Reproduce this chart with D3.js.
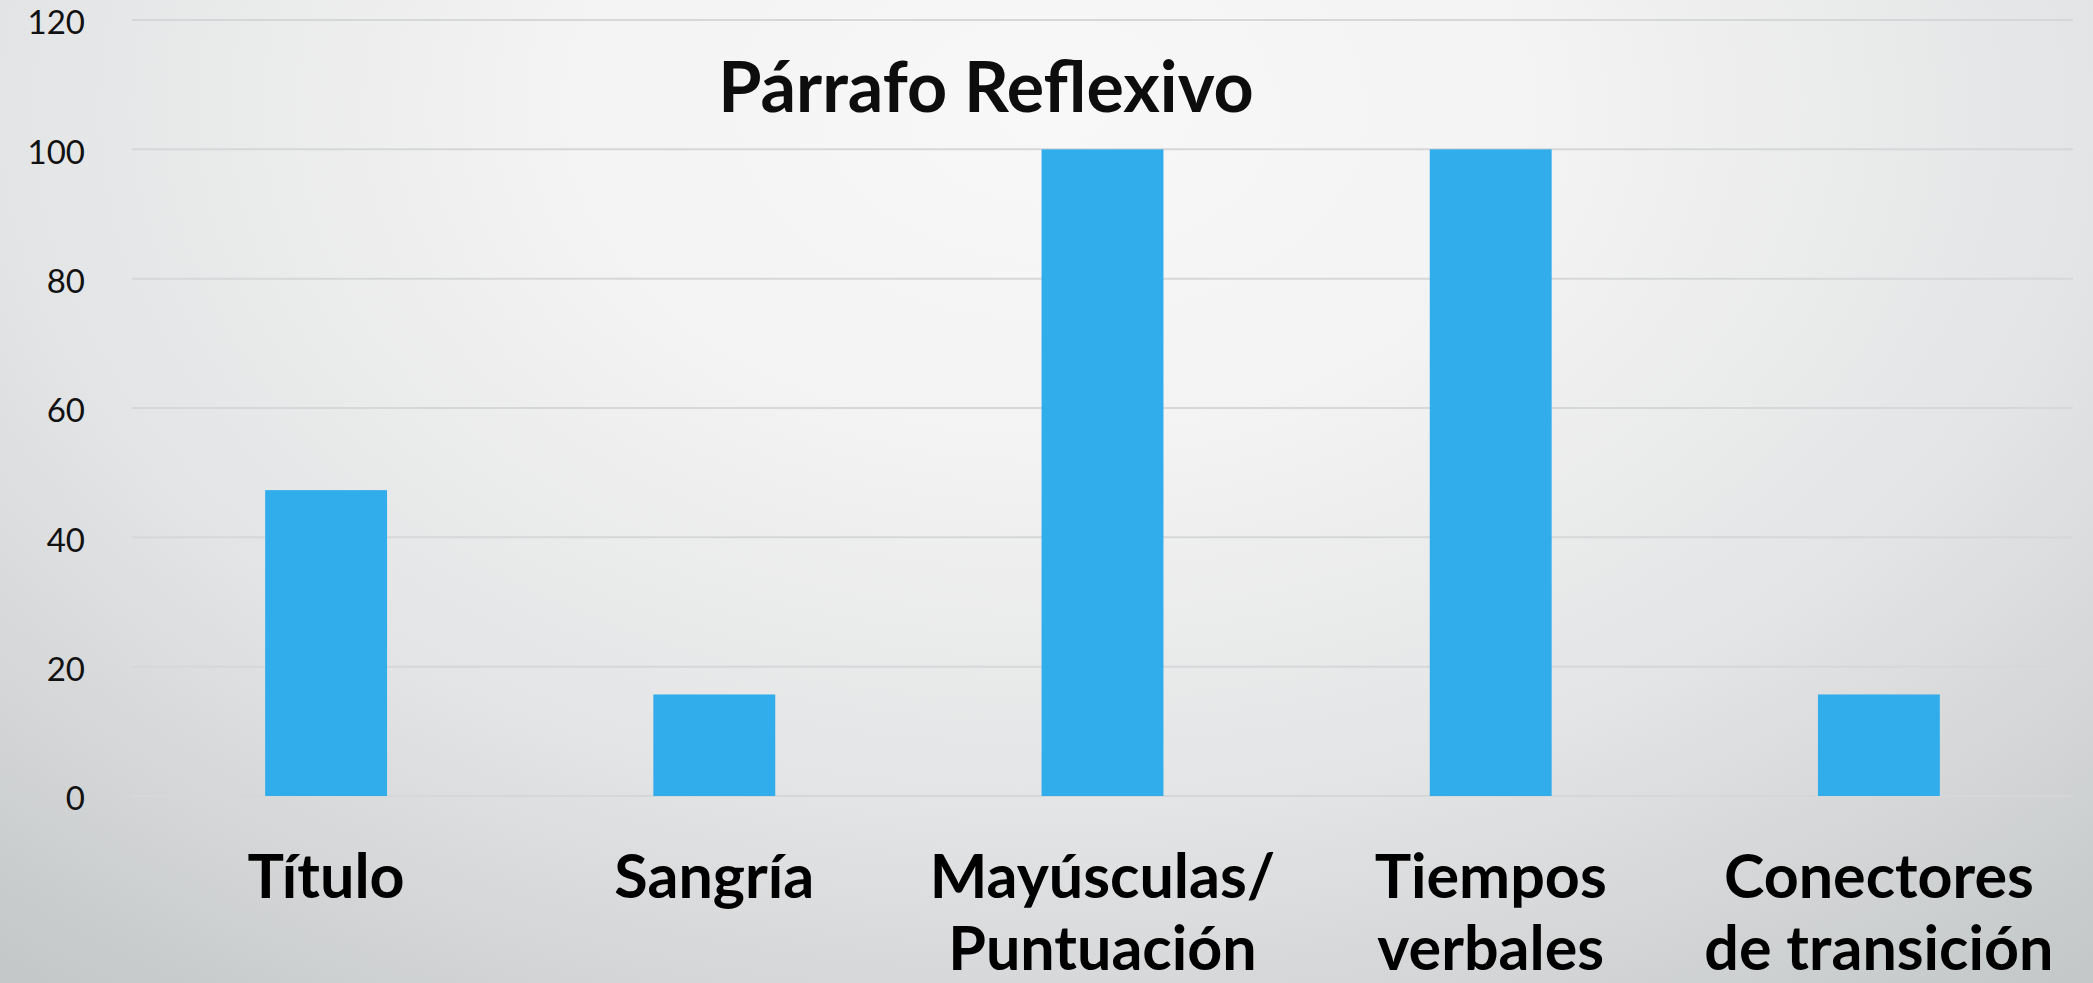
<!DOCTYPE html>
<html>
<head>
<meta charset="utf-8">
<script src="https://cdn.jsdelivr.net/npm/d3@7"></script>
<style>
  body { margin: 0; background: #e6e7e8; }
  svg { display: block; }
</style>
</head>
<body>
<svg></svg>
<script>
// data
var categories = ["Título", "Sangría", "Mayúsculas/ Puntuación", "Tiempos verbales", "Conectores de transición"];
var labelLines = [["Título"], ["Sangría"], ["Mayúsculas/", "Puntuación"], ["Tiempos", "verbales"], ["Conectores", "de transición"]];
var values = [47.3, 15.7, 100, 100, 15.7];
var yTicks = [0, 20, 40, 60, 80, 100, 120];
var chartTitle = "Párrafo Reflexivo";

var svgWidth = 2093,
    svgHeight = 983,
    margin = {top: 20, right: 20, bottom: 187, left: 132},
    width = svgWidth - margin.left - margin.right,
    height = svgHeight - margin.top - margin.bottom;

var svg = d3.select("svg")
    .attr("width", svgWidth)
    .attr("height", svgHeight);

applyBackground(svg);

var xScale = d3.scaleBand()
    .domain(categories)
    .range([margin.left, margin.left + width])
    .paddingInner(0.686)
    .paddingOuter(0.343);

var yScale = d3.scaleLinear()
    .domain([0, 120])
    .range([margin.top + height, margin.top]);

// gridlines
svg.append("g")
    .attr("class", "grid")
    .selectAll("line")
    .data(yTicks)
    .enter()
    .append("line")
    .attr("x1", margin.left)
    .attr("x2", margin.left + width)
    .attr("y1", function(d){ return yScale(d); })
    .attr("y2", function(d){ return yScale(d); })
    .attr("stroke", "#d6d7d8")
    .attr("stroke-width", 2);

// y axis labels
var yAxis = d3.axisLeft(yScale)
    .tickValues(yTicks)
    .tickSize(0)
    .tickPadding(0);

var yAxisG = svg.append("g")
    .attr("transform", "translate(85,0)")
    .call(yAxis);
yAxisG.select(".domain").remove();
yAxisG.selectAll("text")
    .attr("dy", "0.42em")
    .style("font-family", "Lato, 'Open Sans', sans-serif")
    .style("font-size", "33px")
    .attr("fill", "#111");

// bars
svg.append("g")
    .selectAll("rect")
    .data(values)
    .enter()
    .append("rect")
    .attr("x", function(d, i){ return xScale(categories[i]); })
    .attr("y", function(d){ return yScale(d); })
    .attr("width", xScale.bandwidth())
    .attr("height", function(d){ return yScale(0) - yScale(d); })
    .attr("fill", "#31ADEB");

// category labels, two lines where needed
var labels = svg.append("g")
    .selectAll("text")
    .data(labelLines)
    .enter()
    .append("text")
    .attr("x", function(d, i){ return xScale(categories[i]) + xScale.bandwidth() / 2; })
    .attr("y", 898)
    .attr("text-anchor", "middle")
    .style("font-family", "Lato, 'Open Sans', sans-serif")
    .style("font-weight", "bold")
    .style("font-size", "61px")
    .attr("fill", "#000");

labels.selectAll("tspan")
    .data(function(d){ return d; })
    .enter()
    .append("tspan")
    .attr("x", function(){ return d3.select(this.parentNode).attr("x"); })
    .attr("dy", function(d, i){ return i == 0 ? 0 : 72; })
    .text(function(d){ return d; });

// title
svg.append("text")
    .text(chartTitle)
    .attr("x", 986)
    .attr("y", 112)
    .attr("text-anchor", "middle")
    .style("font-family", "Lato, 'Open Sans', sans-serif")
    .style("font-weight", "bold")
    .style("font-size", "70px")
    .attr("fill", "#0d0d0d");

function applyBackground(svg){
    var defs = svg.append("defs");

    var gradient = defs.append("radialGradient")
        .attr("id", "bg")
        .attr("gradientUnits", "userSpaceOnUse")
        .attr("cx", 0)
        .attr("cy", 0)
        .attr("r", 1)
        .attr("gradientTransform", "translate(1050,110) scale(1650,1100)");

    var stops = [[0, "#f8f8f8"], [0.3, "#f3f3f3"], [0.64, "#e3e4e5"], [0.78, "#d8d9da"], [1, "#c4c8c9"]];
    stops.forEach(function(s){
        gradient.append("stop")
            .attr("offset", s[0])
            .attr("stop-color", s[1]);
    });

    svg.append("rect")
        .attr("width", svgWidth)
        .attr("height", svgHeight)
        .attr("fill", "url(#bg)");
}
</script>
</body>
</html>
